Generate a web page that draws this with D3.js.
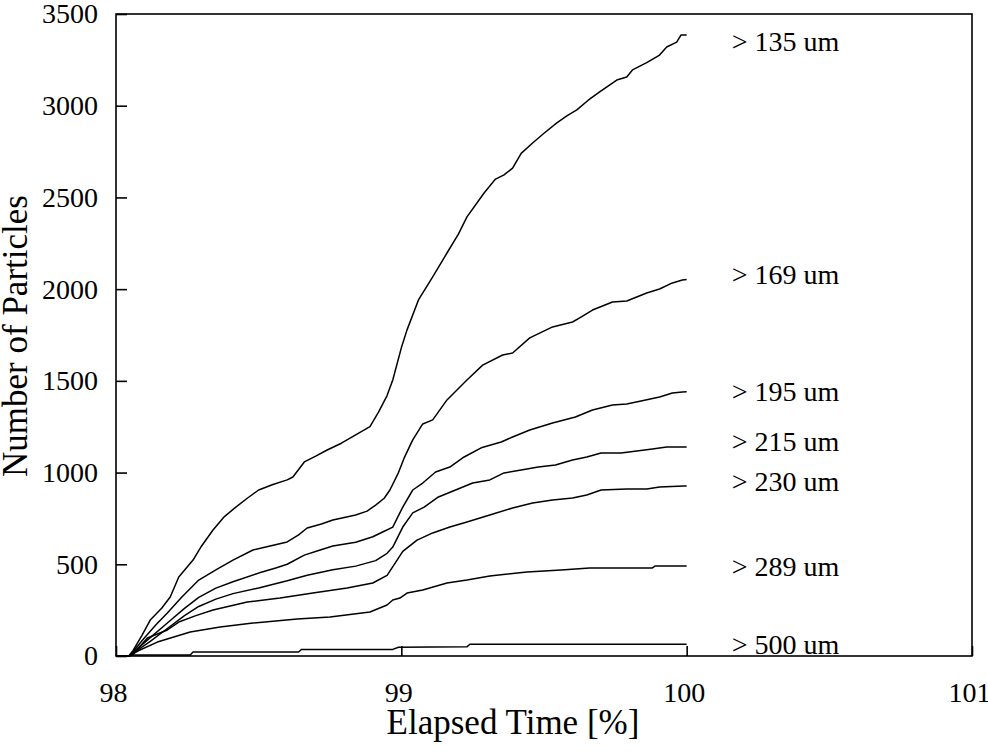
<!DOCTYPE html>
<html>
<head>
<meta charset="utf-8">
<script src="https://cdn.jsdelivr.net/npm/d3@7"></script>
<style>
  html, body { margin: 0; padding: 0; background: #fff; }
  svg { display: block; font-family: "Liberation Serif", "Times New Roman", serif; }
</style>
</head>
<body>
<svg id="chart" width="988" height="752"></svg>
<script>
// ---- data ----
const xTicks = [98, 99, 100, 101];
const yTicks = [0, 500, 1000, 1500, 2000, 2500, 3000, 3500];
const seriesNames = ["> 135 um", "> 169 um", "> 195 um", "> 215 um", "> 230 um", "> 289 um", "> 500 um"];
const labelValues = [3350, 2077, 1439, 1166, 948, 485, 60];

const series135 = [[98.00,0],[98.045,0],[98.06,30],[98.09,110],[98.12,196],[98.16,260],[98.19,322],[98.22,431],[98.27,523],[98.30,600],[98.34,687],[98.38,760],[98.42,812],[98.46,860],[98.50,905],[98.55,935],[98.60,960],[98.62,976],[98.66,1058],[98.70,1090],[98.74,1123],[98.79,1160],[98.84,1205],[98.89,1250],[98.92,1330],[98.95,1420],[98.97,1505],[99.00,1680],[99.02,1778],[99.06,1941],[99.11,2067],[99.16,2197],[99.20,2300],[99.23,2394],[99.29,2524],[99.33,2600],[99.36,2623],[99.39,2660],[99.42,2740],[99.46,2797],[99.50,2850],[99.545,2906],[99.58,2945],[99.615,2977],[99.655,3030],[99.695,3075],[99.755,3140],[99.79,3157],[99.81,3195],[99.86,3235],[99.905,3276],[99.93,3320],[99.965,3347],[99.98,3385],[100,3385]];
const series169 = [[98.00,0],[98.045,0],[98.06,25],[98.10,100],[98.14,170],[98.18,234],[98.23,320],[98.29,414],[98.35,470],[98.41,523],[98.48,578],[98.54,600],[98.60,622],[98.64,660],[98.67,698],[98.72,720],[98.76,741],[98.84,769],[98.88,790],[98.91,823],[98.94,860],[98.96,905],[98.99,1000],[99.01,1080],[99.04,1178],[99.075,1265],[99.11,1287],[99.16,1396],[99.23,1505],[99.285,1586],[99.355,1641],[99.39,1652],[99.45,1734],[99.53,1794],[99.60,1821],[99.625,1843],[99.67,1886],[99.74,1930],[99.79,1935],[99.86,1979],[99.905,2001],[99.95,2034],[99.985,2050],[100,2052]];
const series195 = [[98.00,0],[98.045,0],[98.06,20],[98.12,100],[98.18,180],[98.24,260],[98.29,320],[98.35,370],[98.41,405],[98.50,452],[98.56,480],[98.60,500],[98.66,550],[98.71,575],[98.76,600],[98.84,620],[98.90,650],[98.94,680],[98.97,703],[99.005,812],[99.04,905],[99.075,943],[99.12,1003],[99.17,1030],[99.22,1085],[99.28,1135],[99.35,1167],[99.39,1194],[99.45,1232],[99.53,1270],[99.61,1303],[99.67,1341],[99.74,1368],[99.79,1374],[99.84,1390],[99.905,1412],[99.95,1434],[99.985,1439],[100,1440]];
const series215 = [[98.00,0],[98.045,0],[98.06,15],[98.12,80],[98.18,150],[98.24,220],[98.29,270],[98.35,310],[98.41,340],[98.50,371],[98.60,410],[98.67,440],[98.76,470],[98.84,490],[98.91,520],[98.95,560],[98.97,594],[99.005,703],[99.04,780],[99.08,812],[99.13,867],[99.19,905],[99.25,943],[99.31,960],[99.36,998],[99.42,1014],[99.48,1030],[99.54,1041],[99.60,1069],[99.65,1085],[99.70,1107],[99.77,1107],[99.825,1118],[99.88,1129],[99.93,1139],[100,1140]];
const series230 = [[98.00,0],[98.045,0],[98.06,10],[98.11,98],[98.18,142],[98.22,185],[98.28,220],[98.34,251],[98.46,294],[98.575,316],[98.69,343],[98.81,371],[98.90,398],[98.95,440],[98.98,510],[99.005,570],[99.055,632],[99.11,671],[99.17,703],[99.23,731],[99.31,769],[99.39,807],[99.46,834],[99.53,850],[99.60,861],[99.65,878],[99.70,905],[99.79,910],[99.86,910],[99.905,921],[99.99,927],[100,927]];
const series289 = [[98.00,0],[98.045,0],[98.08,30],[98.145,76],[98.26,131],[98.365,158],[98.48,180],[98.635,202],[98.75,213],[98.89,240],[98.95,278],[98.97,305],[98.995,316],[99.02,343],[99.075,360],[99.16,398],[99.23,414],[99.31,436],[99.44,458],[99.56,469],[99.66,480],[99.88,480],[99.89,491],[100,491]];
const series500 = [[98.00,0],[98.05,0],[98.05,5],[98.26,5],[98.27,22],[98.64,22],[98.65,36],[98.97,36],[98.99,48],[99.23,50],[99.24,64],[100,64]];

const allSeries = [series135, series169, series195, series215, series230, series289, series500];

// ---- drawing ----
const svg = d3.select("#chart");
const plotLeft = 116, plotRight = 972, plotTop = 14, plotBottom = 656;
const x = d3.scaleLinear().domain([98, 101]).range([plotLeft, plotRight]);
const y = d3.scaleLinear().domain([0, 3500]).range([plotBottom, plotTop]);

const fontFam = '"Liberation Serif", "Times New Roman", serif';

// lines
const line = d3.line().x(d => x(d[0])).y(d => y(d[1]));
svg.append("g").selectAll("path").data(allSeries).join("path")
  .attr("d", line)
  .attr("fill", "none")
  .attr("stroke", "#000")
  .attr("stroke-width", 1.5)
  .attr("stroke-linejoin", "round");

// y axis
const yAxis = d3.axisLeft(y).tickValues(yTicks).tickSizeInner(-11).tickSizeOuter(0).tickPadding(18).tickFormat(d3.format("d"));
const gy = svg.append("g").attr("transform", `translate(${plotLeft},0)`).call(yAxis);
gy.select(".domain").remove();
gy.selectAll(".tick line").attr("stroke", "#000").attr("stroke-width", 1.6);
gy.selectAll(".tick text").attr("font-size", 28).attr("font-family", fontFam).attr("fill", "#000");

// x axis
const xAxis = d3.axisBottom(x).tickValues(xTicks).tickSizeInner(-10).tickSizeOuter(0).tickPadding(26).tickFormat(d3.format("d"));
const gx = svg.append("g").attr("transform", `translate(0,${plotBottom})`).call(xAxis);
gx.select(".domain").remove();
gx.selectAll(".tick line").attr("stroke", "#000").attr("stroke-width", 1.6);
gx.selectAll(".tick text").attr("font-size", 28).attr("font-family", fontFam).attr("fill", "#000").attr("dx", -3);

// frame
svg.append("rect")
  .attr("x", plotLeft).attr("y", plotTop)
  .attr("width", plotRight - plotLeft).attr("height", plotBottom - plotTop)
  .attr("fill", "none").attr("stroke", "#000").attr("stroke-width", 1.6);

// series labels
svg.append("g").selectAll("text").data(seriesNames).join("text")
  .attr("x", x(100) + 45)
  .attr("y", (d, i) => y(labelValues[i]) + 9)
  .attr("font-size", 28)
  .attr("font-family", fontFam)
  .attr("fill", "#000")
  .text(d => d);

// axis titles
svg.append("text")
  .attr("x", 513).attr("y", 734)
  .attr("text-anchor", "middle")
  .attr("font-size", 35)
  .attr("font-family", fontFam)
  .text("Elapsed Time [%]");

svg.append("text")
  .attr("transform", "translate(27,336) rotate(-90)")
  .attr("text-anchor", "middle")
  .attr("font-size", 35)
  .attr("font-family", fontFam)
  .text("Number of Particles");
</script>
</body>
</html>
